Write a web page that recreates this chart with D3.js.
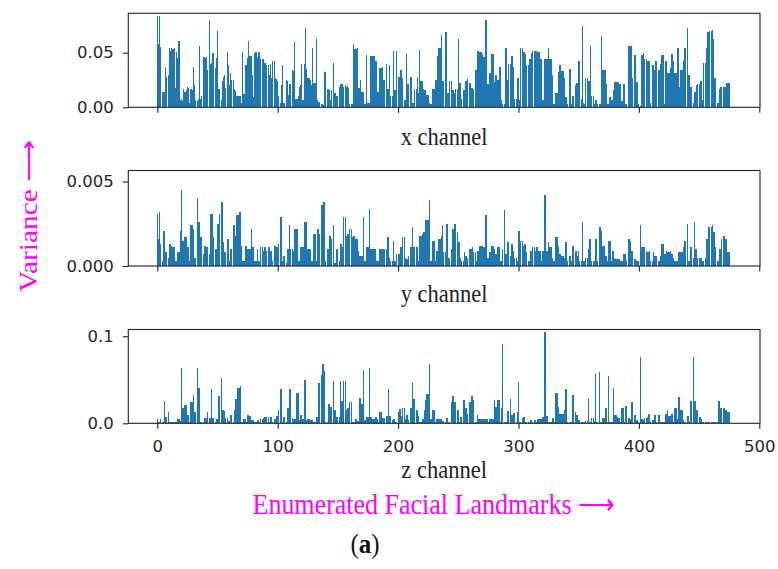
<!DOCTYPE html>
<html>
<head>
<meta charset="utf-8">
<script src="https://cdn.jsdelivr.net/npm/d3@7"></script>
<style>
  html, body { margin: 0; padding: 0; background: #fff; }
  svg { display: block; }
</style>
</head>
<body>
<svg id="chart" width="778" height="569"></svg>
<script>
// variance per landmark, x channel
const xVar = [
  0.0835,0.058,0.0835,0.055,0.014,0.014,0.014,0.037,0.028,0.030,
  0.054,0.052,0.054,0.053,0.054,0.018,0.051,0.045,0.061,0.007,
  0.008,0.006,0.017,0.014,0.016,0.019,0.018,0.004,0.017,0.016,
  0.037,0.020,0.007,0.006,0.008,0.056,0.008,0.010,0.046,0.046,
  0.045,0.046,0.034,0.080,0.040,0.041,0.050,0.050,0.036,0.045,
  0.070,0.017,0.017,0.007,0.024,0.028,0.030,0.018,0.051,0.039,
  0.020,0.031,0.025,0.025,0.017,0.015,0.010,0.010,0.010,0.010,
  0.004,0.051,0.012,0.039,0.039,0.045,0.061,0.047,0.047,0.030,
  0.009,0.050,0.051,0.046,0.051,0.051,0.044,0.044,0.044,0.041,
  0.041,0.039,0.039,0.030,0.040,0.027,0.042,0.042,0.027,0.026,
  0.024,0.010,0.004,0.020,0.039,0.004,0.004,0.025,0.024,0.011,
  0.021,0.021,0.034,0.033,0.060,0.008,0.008,0.010,0.019,0.020,
  0.040,0.007,0.040,0.073,0.035,0.027,0.027,0.025,0.020,0.054,
  0.022,0.022,0.063,0.007,0.005,0.005,0.003,0.003,0.002,0.032,
  0.032,0.017,0.017,0.016,0.007,0.016,0.041,0.013,0.013,0.010,
  0.010,0.019,0.021,0.021,0.021,0.019,0.020,0.019,0.0195,0.018,
  0.003,0.003,0.003,0.058,0.053,0.053,0.054,0.018,0.018,0.025,
  0.014,0.014,0.003,0.003,0.048,0.004,0.004,0.047,0.047,0.047,
  0.047,0.042,0.042,0.014,0.014,0.036,0.036,0.037,0.025,0.025,
  0.040,0.017,0.017,0.039,0.010,0.010,0.052,0.016,0.016,0.052,
  0.028,0.028,0.034,0.034,0.027,0.007,0.007,0.049,0.021,0.021,
  0.028,0.028,0.004,0.004,0.017,0.017,0.028,0.013,0.0525,0.024,
  0.024,0.017,0.016,0.016,0.011,0.011,0.004,0.003,0.003,0.017,
  0.017,0.025,0.025,0.047,0.054,0.054,0.066,0.024,0.024,0.069,
  0.069,0.013,0.013,0.024,0.024,0.016,0.016,0.013,0.017,0.017,
  0.0626,0.022,0.022,0.008,0.016,0.016,0.024,0.024,0.026,0.022,
  0.022,0.018,0.018,0.017,0.034,0.034,0.052,0.052,0.051,0.051,
  0.049,0.046,0.046,0.080,0.021,0.021,0.031,0.031,0.049,0.049,
  0.023,0.030,0.030,0.025,0.037,0.037,0.007,0.003,0.003,0.054,
  0.054,0.025,0.040,0.040,0.047,0.047,0.037,0.008,0.008,0.027,
  0.027,0.007,0.054,0.054,0.051,0.051,0.049,0.039,0.039,0.044,
  0.044,0.050,0.052,0.052,0.052,0.052,0.051,0.051,0.044,0.044,
  0.007,0.007,0.044,0.044,0.044,0.054,0.044,0.044,0.030,0.003,
  0.003,0.013,0.013,0.032,0.039,0.039,0.033,0.033,0.027,0.009,
  0.009,0.003,0.035,0.035,0.003,0.010,0.010,0.020,0.022,0.022,
  0.042,0.042,0.008,0.0748,0.004,0.003,0.027,0.027,0.024,0.024,
  0.056,0.010,0.010,0.003,0.007,0.007,0.003,0.003,0.003,0.065,
  0.034,0.034,0.034,0.021,0.003,0.003,0.009,0.007,0.007,0.016,
  0.0235,0.0235,0.0235,0.0235,0.021,0.021,0.006,0.021,0.021,0.003,
  0.003,0.056,0.056,0.056,0.056,0.027,0.048,0.048,0.023,0.023,
  0.003,0.001,0.048,0.048,0.050,0.044,0.044,0.042,0.042,0.042,
  0.004,0.039,0.039,0.034,0.042,0.042,0.034,0.034,0.040,0.048,
  0.048,0.003,0.042,0.042,0.031,0.031,0.036,0.049,0.049,0.042,
  0.031,0.031,0.054,0.054,0.019,0.034,0.034,0.042,0.054,0.054,
  0.073,0.030,0.030,0.019,0.019,0.004,0.014,0.014,0.020,0.021,
  0.021,0.024,0.024,0.007,0.041,0.041,0.054,0.069,0.069,0.070,
  0.070,0.071,0.063,0.027,0.027,0.004,0.004,0.017,0.019,0.019,
  0.019,0.019,0.019,0.022,0.022,0.022
];

// y channel
const yVar = [
  0.0031,0.0016,0.0032,0.0013,0.0003,0.0021,0.0021,0.0008,0.0008,0.0005,
  0.0013,0.0013,0.0012,0.0011,0.0011,0.0003,0.0003,0.0008,0.0008,0.0021,
  0.0045,0.0015,0.0015,0.0017,0.0017,0.0011,0.0011,0.0003,0.0024,0.0024,
  0.0022,0.0005,0.0005,0.0040,0.0026,0.0026,0.0017,0.0017,0.0007,0.0012,
  0.0012,0.0011,0.0011,0.0007,0.0031,0.0031,0.0031,0.0017,0.0010,0.0010,
  0.0025,0.0025,0.0031,0.0038,0.0038,0.0014,0.0008,0.0008,0.0016,0.0016,
  0.0003,0.0010,0.0010,0.0024,0.0024,0.0018,0.0030,0.0030,0.0032,0.0032,
  0.0012,0.0003,0.0003,0.0012,0.0012,0.0010,0.0010,0.0010,0.0022,0.0011,
  0.0011,0.0003,0.0003,0.0010,0.0003,0.0003,0.0011,0.0011,0.0009,0.0011,
  0.0011,0.0009,0.0011,0.0011,0.0009,0.0009,0.0003,0.0012,0.0012,0.0011,
  0.0011,0.0013,0.0029,0.0029,0.0003,0.0006,0.0006,0.0002,0.0010,0.0010,
  0.0024,0.0010,0.0010,0.0009,0.0022,0.0022,0.0022,0.0003,0.0003,0.0011,
  0.0011,0.0011,0.0026,0.0026,0.0026,0.0010,0.0010,0.0010,0.0003,0.0003,
  0.0019,0.0019,0.0003,0.0022,0.0022,0.0019,0.0036,0.0036,0.0038,0.0038,
  0.0003,0.0010,0.0010,0.0018,0.0018,0.0016,0.0024,0.0002,0.0002,0.0010,
  0.0010,0.0003,0.0013,0.0013,0.0011,0.0029,0.0029,0.0018,0.0019,0.0019,
  0.0022,0.0022,0.0017,0.0018,0.0018,0.0016,0.0016,0.0009,0.0006,0.0006,
  0.0006,0.0029,0.0003,0.0003,0.0011,0.0011,0.0034,0.0010,0.0010,0.0010,
  0.0010,0.0010,0.0003,0.0003,0.0003,0.0010,0.0010,0.0010,0.0010,0.0010,
  0.0010,0.0017,0.0017,0.0005,0.0003,0.0003,0.0015,0.0003,0.0003,0.0007,
  0.0007,0.0007,0.0011,0.0011,0.0017,0.0017,0.0005,0.0004,0.0004,0.0006,
  0.0011,0.0011,0.0023,0.0011,0.0011,0.0011,0.0011,0.0003,0.0018,0.0018,
  0.0019,0.0020,0.0020,0.0027,0.0027,0.0027,0.0039,0.0003,0.0003,0.0015,
  0.0015,0.0003,0.0009,0.0009,0.0016,0.0016,0.0018,0.0024,0.0008,0.0008,
  0.0025,0.0025,0.0005,0.0005,0.0010,0.0022,0.0022,0.0025,0.0025,0.0020,
  0.0014,0.0014,0.0005,0.0003,0.0003,0.0008,0.0006,0.0006,0.0005,0.0010,
  0.0010,0.0010,0.0011,0.0008,0.0008,0.0003,0.0009,0.0009,0.0012,0.0012,
  0.0012,0.0011,0.0011,0.0030,0.0005,0.0005,0.0008,0.0008,0.0012,0.0012,
  0.0010,0.0007,0.0007,0.0011,0.0011,0.0003,0.0003,0.0010,0.0033,0.0007,
  0.0007,0.0014,0.0014,0.0006,0.0013,0.0013,0.0009,0.0005,0.0005,0.0003,
  0.0021,0.0021,0.0015,0.0015,0.0012,0.0013,0.0013,0.0008,0.0003,0.0003,
  0.0009,0.0009,0.0011,0.0011,0.0009,0.0011,0.0011,0.0009,0.0009,0.0003,
  0.0009,0.0009,0.0042,0.0009,0.0009,0.0014,0.0011,0.0011,0.0005,0.0003,
  0.0003,0.0017,0.0017,0.0012,0.0007,0.0007,0.0006,0.0006,0.0005,0.0014,
  0.0014,0.0003,0.0006,0.0006,0.0003,0.0012,0.0012,0.0009,0.0009,0.0006,
  0.0009,0.0003,0.0003,0.0026,0.0003,0.0003,0.0005,0.0005,0.0010,0.0016,
  0.0016,0.0003,0.0003,0.0003,0.0016,0.0016,0.0003,0.0023,0.0023,0.0021,
  0.0012,0.0012,0.0006,0.0006,0.0003,0.0015,0.0015,0.0003,0.0009,0.0009,
  0.0005,0.0004,0.0004,0.0004,0.0004,0.0003,0.0003,0.0007,0.0007,0.0007,
  0.0003,0.0016,0.0016,0.0015,0.0009,0.0009,0.0004,0.0004,0.0003,0.0003,
  0.0003,0.0024,0.0011,0.0011,0.0011,0.0011,0.0009,0.0008,0.0008,0.0009,
  0.0003,0.0003,0.0008,0.0006,0.0006,0.0006,0.0003,0.0003,0.0006,0.0013,
  0.0013,0.0007,0.0007,0.0009,0.0008,0.0008,0.0009,0.0007,0.0007,0.0005,
  0.0003,0.0003,0.0003,0.0008,0.0008,0.0008,0.0008,0.0011,0.0015,0.0015,
  0.0025,0.0003,0.0003,0.0011,0.0011,0.0005,0.0026,0.0010,0.0010,0.0005,
  0.0005,0.0005,0.0005,0.0003,0.0003,0.0005,0.0016,0.0016,0.0023,0.0023,
  0.0023,0.0024,0.0020,0.0020,0.0011,0.0003,0.0003,0.0010,0.0010,0.0016,
  0.0018,0.0018,0.0016,0.0016,0.0008,0.0008
];

// z channel
const zVar = [
  0.0046,0.001,0.001,0.0046,0.001,0.001,0.026,0.0077,0.0077,0.0134,
  0.0019,0.0019,0.0019,0.0019,0.0019,0.0019,0.001,0.005,0.005,0.0027,
  0.063,0.017,0.017,0.021,0.021,0.009,0.009,0.001,0.024,0.024,
  0.033,0.013,0.013,0.063,0.041,0.041,0.001,0.001,0.001,0.0065,
  0.0065,0.0065,0.013,0.0065,0.0065,0.039,0.0057,0.0057,0.001,0.005,
  0.005,0.031,0.031,0.052,0.015,0.015,0.014,0.0065,0.0065,0.0027,
  0.0027,0.010,0.010,0.001,0.015,0.028,0.028,0.041,0.041,0.043,
  0.001,0.001,0.005,0.005,0.001,0.0096,0.0096,0.0088,0.0038,0.0038,
  0.0038,0.001,0.001,0.0038,0.0038,0.001,0.005,0.005,0.0065,0.0077,
  0.0077,0.0077,0.0077,0.001,0.0077,0.0077,0.001,0.005,0.005,0.0088,
  0.0088,0.015,0.039,0.039,0.001,0.0077,0.0077,0.001,0.017,0.017,
  0.039,0.039,0.0057,0.005,0.005,0.005,0.0345,0.0345,0.0038,0.0096,
  0.0096,0.005,0.050,0.050,0.0038,0.005,0.005,0.0038,0.0038,0.0038,
  0.001,0.001,0.0077,0.0077,0.046,0.046,0.0556,0.0678,0.0678,0.060,
  0.001,0.001,0.0218,0.0218,0.0192,0.0192,0.048,0.015,0.015,0.0077,
  0.0077,0.0077,0.048,0.0257,0.0257,0.048,0.048,0.015,0.017,0.017,
  0.024,0.024,0.001,0.001,0.001,0.005,0.0027,0.0027,0.029,0.029,
  0.022,0.0613,0.0038,0.0038,0.0077,0.0077,0.0632,0.0077,0.0077,0.005,
  0.005,0.0077,0.0077,0.005,0.001,0.0134,0.0134,0.0065,0.0065,0.0065,
  0.0088,0.0088,0.039,0.0088,0.0088,0.0038,0.005,0.005,0.001,0.001,
  0.0134,0.0165,0.0165,0.0088,0.018,0.018,0.005,0.009,0.009,0.0038,
  0.018,0.018,0.046,0.028,0.028,0.015,0.015,0.0088,0.001,0.001,
  0.005,0.005,0.015,0.027,0.0333,0.0333,0.0678,0.005,0.005,0.015,
  0.015,0.001,0.005,0.005,0.005,0.005,0.005,0.0027,0.0027,0.001,
  0.0057,0.0057,0.001,0.001,0.024,0.031,0.031,0.025,0.025,0.015,
  0.015,0.001,0.0077,0.0077,0.0268,0.0268,0.017,0.017,0.0104,0.024,
  0.024,0.031,0.031,0.027,0.001,0.001,0.0096,0.005,0.005,0.005,
  0.005,0.005,0.005,0.005,0.005,0.001,0.005,0.005,0.005,0.005,
  0.027,0.0192,0.0192,0.027,0.027,0.001,0.017,0.0912,0.001,0.001,
  0.001,0.0142,0.0142,0.028,0.0096,0.0096,0.0115,0.0115,0.001,0.0134,
  0.0479,0.001,0.001,0.0065,0.0077,0.0077,0.001,0.001,0.001,0.001,
  0.0038,0.0038,0.001,0.0038,0.0038,0.001,0.005,0.005,0.005,0.0046,
  0.0077,0.0077,0.1046,0.0088,0.0088,0.001,0.001,0.002,0.0065,0.0065,
  0.001,0.0345,0.0345,0.0192,0.0104,0.0104,0.0104,0.0104,0.0153,0.039,
  0.039,0.001,0.002,0.002,0.001,0.0326,0.0326,0.0134,0.0096,0.0096,
  0.0038,0.0038,0.001,0.002,0.002,0.001,0.0027,0.0027,0.028,0.001,
  0.001,0.0057,0.0057,0.0027,0.0563,0.001,0.001,0.0586,0.001,0.001,
  0.0065,0.0065,0.0172,0.0172,0.001,0.0544,0.001,0.001,0.001,0.041,
  0.0096,0.0096,0.0077,0.0065,0.0065,0.001,0.0172,0.0172,0.002,0.0203,
  0.0203,0.0065,0.0065,0.005,0.0241,0.0241,0.0096,0.0096,0.0038,0.0038,
  0.001,0.0759,0.005,0.005,0.0038,0.0057,0.0057,0.0077,0.0104,0.0104,
  0.001,0.0038,0.0038,0.0096,0.0096,0.001,0.0096,0.0096,0.001,0.001,
  0.001,0.001,0.0104,0.0104,0.0153,0.0088,0.0088,0.0104,0.0104,0.001,
  0.0172,0.0172,0.005,0.0307,0.0307,0.0153,0.0153,0.0038,0.001,0.001,
  0.0088,0.0088,0.001,0.0257,0.0257,0.0759,0.0257,0.0257,0.0153,0.0153,
  0.0077,0.0077,0.005,0.001,0.0019,0.0019,0.0019,0.0019,0.0019,0.0019,
  0.0019,0.0019,0.0019,0.0019,0.0019,0.001,0.0257,0.0257,0.0172,0.0172,
  0.0172,0.0172,0.0153,0.0153,0.0126,0.0126
];

const channelNames = ["x channel", "y channel", "z channel"];
const yTicksX = [0, 0.05];
const yTicksY = [0, 0.005];
const yTicksZ = [0, 0.1];
const xTicks = [0, 100, 200, 300, 400, 500];

const barColor = "#1f77b4";
const tickFont = "'DejaVu Sans', sans-serif";
const serif = "'Liberation Serif', 'Times New Roman', serif";
const stretch = 1.13; // the figure is a bit taller than wide

const svg = d3.select("#chart");

const x = d3.scaleLinear().domain([-24.1, 500.6]).range([128.3, 760]);
const half = 0.45; // bar half width, in index units

const panels = [
  { values: xVar, ticks: yTicksX, fmt: ".2f", top: 13.3, bottom: 107.3, ymax: 0.0861, label: channelNames[0], labelY: 145 },
  { values: yVar, ticks: yTicksY, fmt: ".3f", top: 170.5, bottom: 266, ymax: 0.00565, label: channelNames[1], labelY: 302 },
  { values: zVar, ticks: yTicksZ, fmt: ".1f", top: 329.5, bottom: 423.3, ymax: 0.1077, label: channelNames[2], labelY: 478 }
];

panels.forEach((p, k) => {
  const y = d3.scaleLinear().domain([0, p.ymax]).range([p.bottom, p.top]);
  const g = svg.append("g");

  g.append("g")
    .attr("shape-rendering", "crispEdges")
    .selectAll("rect")
    .data(p.values)
    .join("rect")
    .attr("x", (d, i) => x(i - half))
    .attr("width", x(half) - x(-half))
    .attr("y", d => y(d))
    .attr("height", d => y(0) - y(d))
    .attr("fill", barColor);

  const yAxis = g.append("g")
    .attr("transform", `translate(${x.range()[0]},0)`)
    .call(d3.axisLeft(y).tickValues(p.ticks).tickFormat(d3.format(p.fmt)).tickSize(5.5).tickPadding(9));

  const xAxis = g.append("g")
    .attr("transform", `translate(0,${p.bottom})`)
    .call(d3.axisBottom(x).tickValues(xTicks).tickFormat(k === 2 ? d3.format("d") : "").tickSize(5.5).tickPadding(11));

  [yAxis, xAxis].forEach(a => {
    a.select(".domain").remove();
    a.selectAll(".tick line").attr("stroke", "#222").attr("stroke-width", 1.1);
    a.selectAll(".tick text")
      .attr("fill", "#262626")
      .style("font-family", tickFont)
      .style("font-size", "16.5px");
  });

  g.append("rect")
    .attr("x", x.range()[0])
    .attr("y", p.top)
    .attr("width", x.range()[1] - x.range()[0])
    .attr("height", p.bottom - p.top)
    .attr("fill", "none")
    .attr("stroke", "#222")
    .attr("stroke-width", 1.1);

  svg.append("text")
    .attr("transform", `translate(${(x.range()[0] + x.range()[1]) / 2},${p.labelY}) scale(1,${stretch})`)
    .attr("text-anchor", "middle")
    .style("font-family", serif)
    .style("font-size", "22.5px")
    .attr("fill", "#222")
    .text(p.label);
});

svg.append("text")
  .attr("transform", `translate(37,292) scale(1,${stretch}) rotate(-90)`)
  .attr("text-anchor", "start")
  .style("font-family", serif)
  .style("font-size", "26px")
  .attr("fill", "#ff00ff")
  .text("Variance ⟶");

svg.append("text")
  .attr("transform", `translate(434,514) scale(1,${stretch})`)
  .attr("text-anchor", "middle")
  .style("font-family", serif)
  .style("font-size", "26px")
  .attr("fill", "#ff00ff")
  .text("Enumerated Facial Landmarks ⟶");

const cap = svg.append("text")
  .attr("transform", `translate(365,553) scale(1,${stretch})`)
  .attr("text-anchor", "middle")
  .style("font-family", serif)
  .style("font-size", "25px")
  .attr("fill", "#111");
cap.append("tspan").text("(");
cap.append("tspan").attr("font-weight", "bold").text("a");
cap.append("tspan").text(")");
</script>
</body>
</html>
